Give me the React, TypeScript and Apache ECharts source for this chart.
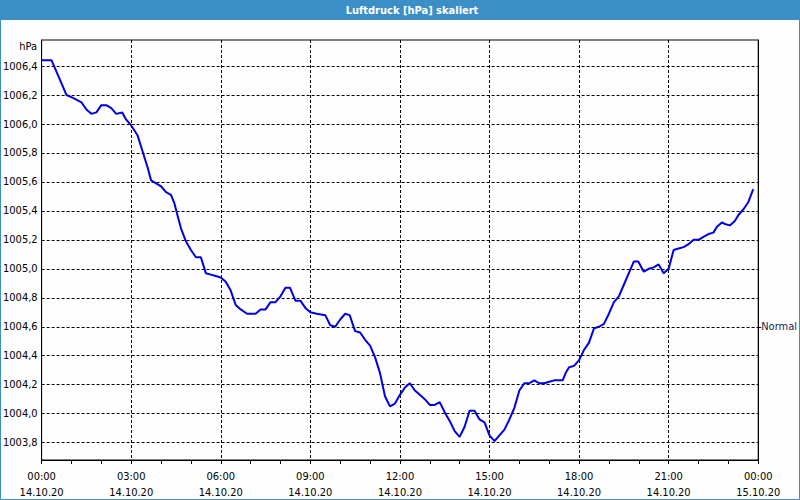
import React, { useEffect, useRef } from "react";
import * as echarts from "echarts";

const titleText = "Luftdruck [hPa] skaliert";
const unitLabel = "hPa";
const normalLabel = "Normal";
const normalValue = 1004.6;
const yTicks = [1003.8, 1004.0, 1004.2, 1004.4, 1004.6, 1004.8, 1005.0, 1005.2, 1005.4, 1005.6, 1005.8, 1006.0, 1006.2, 1006.4];
const xTickHours = [0, 3, 6, 9, 12, 15, 18, 21, 24];
const xTickDates = ["14.10.20", "14.10.20", "14.10.20", "14.10.20", "14.10.20", "14.10.20", "14.10.20", "14.10.20", "15.10.20"];

// minutes after 14.10.20 00:00
const minutes = [
  0, 20, 30, 40, 50, 63, 80, 90, 100, 110, 120, 130, 140, 150, 162, 170, 180, 193, 203, 213,
  220, 230, 240, 250, 260, 267, 273, 280, 290, 300, 310, 320, 330, 340, 350, 360, 370, 380, 390, 400,
  413, 430, 440, 450, 460, 470, 480, 490, 499, 510, 520, 530, 540, 553, 570, 580, 590, 600, 610, 619,
  630, 640, 650, 660, 670, 680, 690, 700, 710, 720, 730, 740, 750, 760, 770, 780, 790, 800, 810, 820,
  830, 840, 850, 860, 870, 880, 890, 900, 910, 920, 930, 940, 950, 960, 970, 980, 990, 1000, 1010, 1020,
  1030, 1047, 1053, 1060, 1070, 1080, 1090, 1100, 1110, 1120, 1130, 1140, 1150, 1160, 1170, 1180, 1190, 1199, 1210, 1220,
  1230, 1240, 1250, 1260, 1270, 1280, 1290, 1300, 1310, 1320, 1330, 1340, 1350, 1357, 1367, 1373, 1383, 1393, 1400, 1410,
  1420, 1430,
];
const pressure = [
  1006.44, 1006.44, 1006.36, 1006.28, 1006.2, 1006.18, 1006.15, 1006.1, 1006.07, 1006.08, 1006.13, 1006.13, 1006.11, 1006.07, 1006.08, 1006.03, 1005.99, 1005.92, 1005.81, 1005.7,
  1005.61, 1005.59, 1005.57, 1005.53, 1005.51, 1005.45, 1005.37, 1005.28, 1005.19, 1005.13, 1005.08, 1005.08, 1004.97, 1004.96, 1004.95, 1004.94, 1004.91, 1004.85, 1004.75, 1004.72,
  1004.69, 1004.69, 1004.72, 1004.72, 1004.77, 1004.77, 1004.81, 1004.87, 1004.87, 1004.78, 1004.78, 1004.73, 1004.7, 1004.69, 1004.68, 1004.61, 1004.6, 1004.65, 1004.69, 1004.68,
  1004.57, 1004.56, 1004.51, 1004.47, 1004.39, 1004.28, 1004.12, 1004.05, 1004.07, 1004.13, 1004.18, 1004.21, 1004.16, 1004.13, 1004.1, 1004.06, 1004.06, 1004.08, 1004.01, 1003.95,
  1003.88, 1003.84, 1003.91, 1004.02, 1004.02, 1003.96, 1003.94, 1003.85, 1003.81, 1003.85, 1003.89, 1003.96, 1004.04, 1004.16, 1004.21, 1004.21, 1004.23, 1004.21, 1004.21, 1004.22,
  1004.23, 1004.23, 1004.28, 1004.32, 1004.33, 1004.37, 1004.44, 1004.49, 1004.59, 1004.6, 1004.62, 1004.69, 1004.77, 1004.81, 1004.89, 1004.97, 1005.05, 1005.05, 1004.98, 1005.0,
  1005.01, 1005.03, 1004.97, 1005.0, 1005.13, 1005.14, 1005.15, 1005.17, 1005.2, 1005.2, 1005.22, 1005.24, 1005.25, 1005.29, 1005.32, 1005.31, 1005.3, 1005.33, 1005.37, 1005.41,
  1005.46, 1005.55,
];

const FONT = 'Tahoma, "DejaVu Sans Condensed", "DejaVu Sans", sans-serif';

export default function App() {
  const ref = useRef<HTMLDivElement>(null);
  useEffect(() => {
    document.body.style.margin = "0";
    if (!ref.current) return;
    const chart = echarts.init(ref.current, undefined, { renderer: "svg" });
    const data = minutes.map((m, i) => [m / 60, pressure[i]]);
    chart.setOption({
      animation: false,
      backgroundColor: "#fdfefd",
      grid: { left: 40, right: 40, top: 40, bottom: 40, show: true, borderColor: "#000", borderWidth: 1, backgroundColor: "transparent" },
      graphic: [
        { type: "rect", shape: { x: 0, y: 0, width: 800, height: 20 }, style: { fill: "#3c8fc6" }, silent: true },
        { type: "rect", shape: { x: 0.5, y: 0.5, width: 799, height: 499 }, style: { fill: "none", stroke: "#3c8fc6", lineWidth: 1 }, silent: true },
        { type: "text", x: 412, y: 10, style: { text: titleText, fill: "#fff", font: `bold 11px ${FONT}`, align: "center", verticalAlign: "middle" }, silent: true },
        { type: "text", x: 37, y: 46, style: { text: unitLabel, fill: "#000", font: `11px ${FONT}`, align: "right", verticalAlign: "middle" }, silent: true },
      ],
      xAxis: {
        type: "value",
        min: 0,
        max: 24,
        interval: 3,
        axisLine: { show: true, lineStyle: { color: "#000", width: 1 } },
        axisTick: { show: true, length: 4, lineStyle: { color: "#000" } },
        minorTick: { show: true, splitNumber: 3, length: 4, lineStyle: { color: "#000" } },
        splitLine: { show: true, lineStyle: { color: "#000", type: [3, 2], width: 1 } },
        axisLabel: {
          margin: 8,
          color: "#000",
          fontFamily: FONT,
          fontSize: 11,
          lineHeight: 16,
          formatter: (v: number) => {
            const i = xTickHours.indexOf(Math.round(v));
            const h = Math.round(v) % 24;
            return `${String(h).padStart(2, "0")}:00\n${xTickDates[i] ?? ""}`;
          },
        },
      },
      yAxis: [
        {
          type: "value",
          min: 1003.68,
          max: 1006.58,
          axisLine: { show: true, lineStyle: { color: "#000", width: 1 } },
          axisTick: { show: false, customValues: yTicks },
          splitLine: { show: true, lineStyle: { color: "#000", type: [3, 2], width: 1 } },
          axisLabel: {
            customValues: yTicks,
            margin: 4,
            color: "#000",
            fontFamily: FONT,
            fontSize: 11,
            formatter: (v: number) => v.toFixed(1).replace(".", ","),
          },
        },
        {
          type: "value",
          position: "right",
          min: 1003.68,
          max: 1006.58,
          axisLine: { show: true, lineStyle: { color: "#000", width: 1 } },
          axisTick: { show: true, length: 3, customValues: [normalValue], lineStyle: { color: "#000" } },
          splitLine: { show: false },
          axisLabel: {
            customValues: [normalValue],
            margin: 3,
            color: "#1a2450",
            fontFamily: FONT,
            fontSize: 11,
            formatter: () => normalLabel,
          },
        },
      ],
      series: [
        {
          type: "line",
          data,
          yAxisIndex: 0,
          showSymbol: false,
          symbol: "none",
          lineStyle: { color: "#0000e6", width: 2 },
          silent: true,
        },
      ],
    });
    return () => chart.dispose();
  }, []);
  return <div ref={ref} style={{ position: "absolute", left: 0, top: 0, width: 800, height: 500 }} />;
}
